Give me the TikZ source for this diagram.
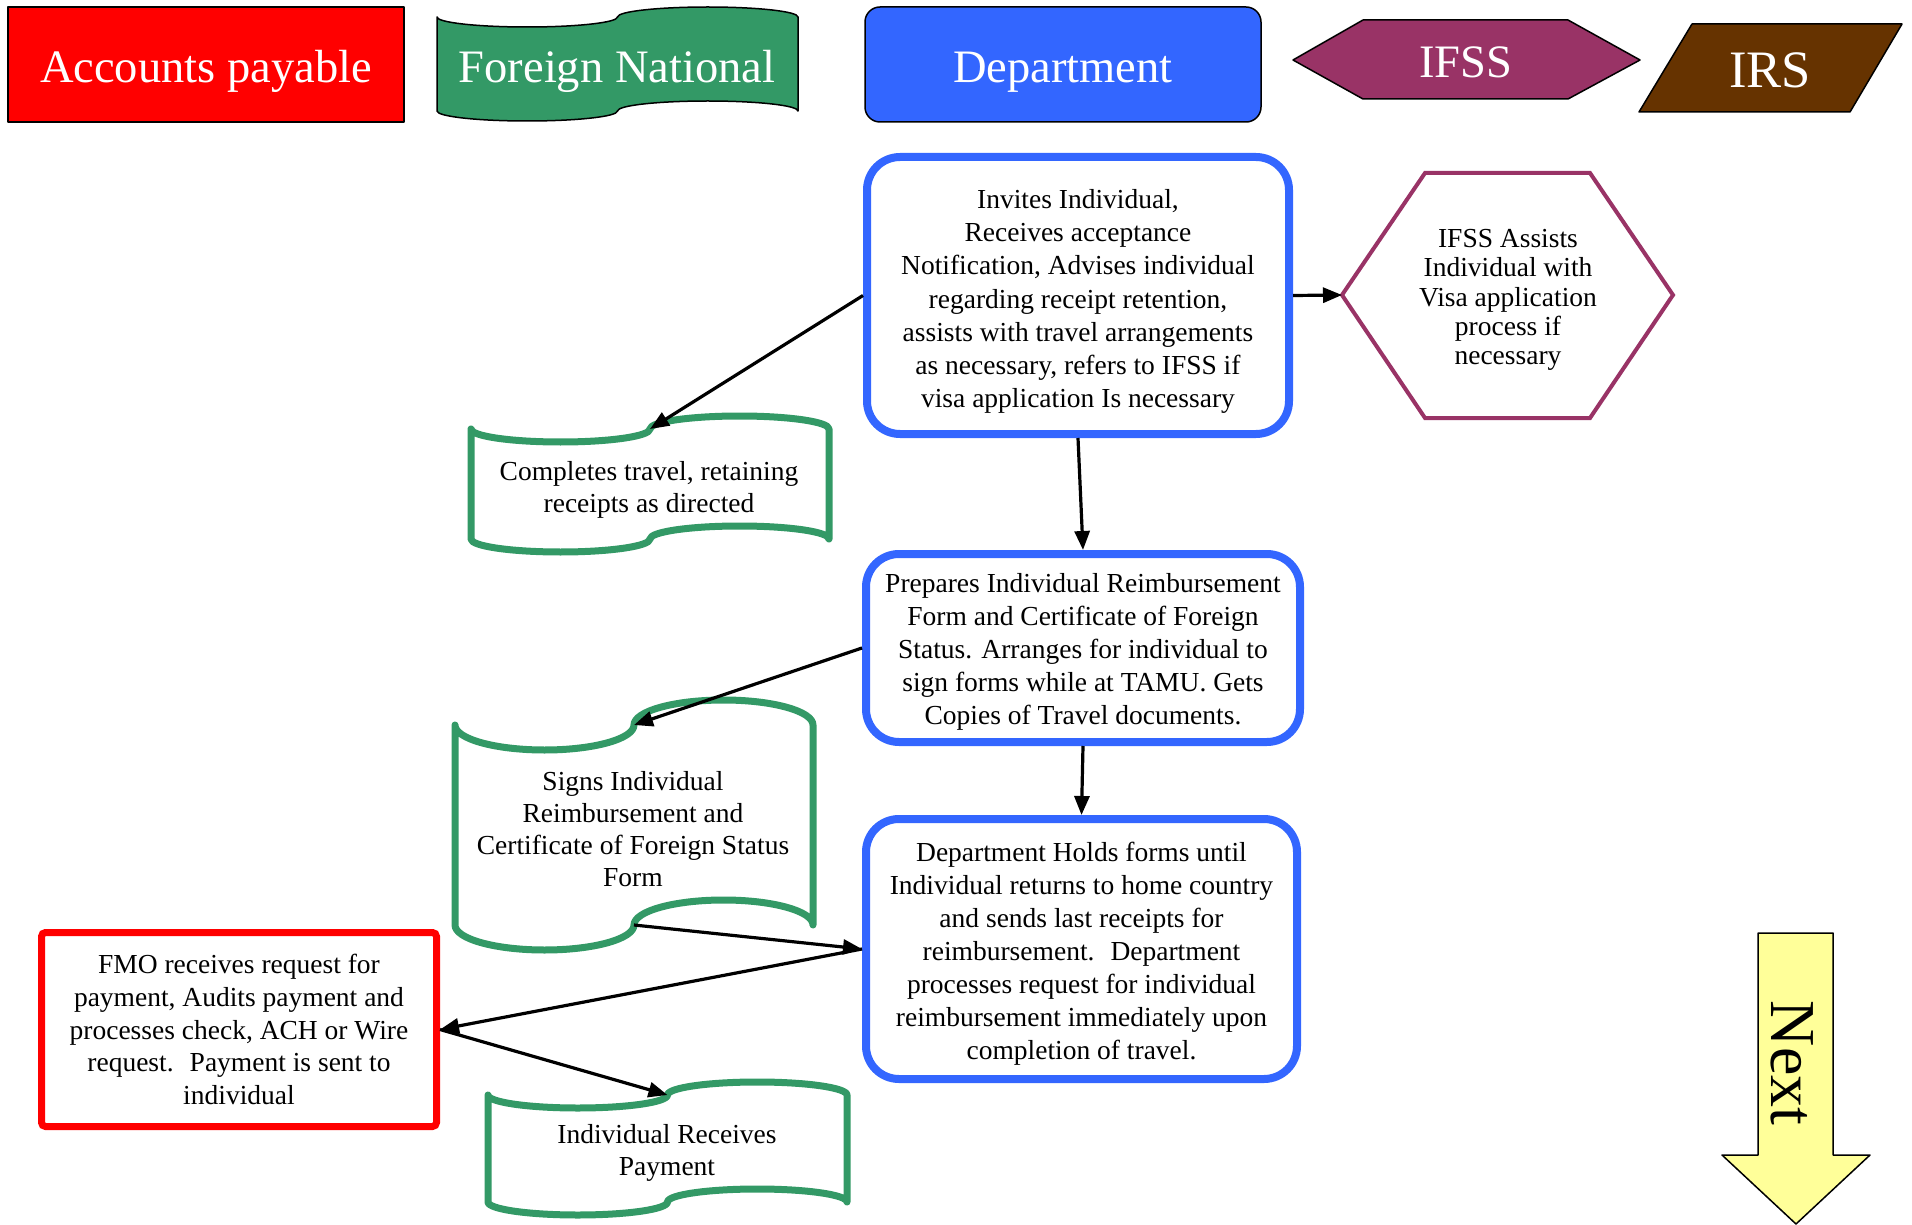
\documentclass[tikz,border=0pt]{standalone}
\usepackage{fontspec}
\setmainfont{Liberation Serif}
\usetikzlibrary{positioning,arrows.meta}
\definecolor{apred}{HTML}{FF0000}
\definecolor{fngreen}{HTML}{339966}
\definecolor{deptblue}{HTML}{3366FF}
\definecolor{ifssplum}{HTML}{993366}
\definecolor{irsbrown}{HTML}{663300}
\definecolor{nextyellow}{HTML}{FFFF99}

\begin{document}
\begin{tikzpicture}[x=0.5pt, y=-0.5pt,
  headnode/.style={inner sep=0pt, text=white, text depth=0pt, font=\fontsize{23.25}{28}\selectfont},
  headline/.style={draw=black, line width=0.75pt, line join=round},
  bluenode/.style={rectangle, draw=deptblue, line width=4pt, rounded corners=16.5pt, fill=white, inner sep=0pt, align=center, font=\fontsize{13.75}{16.55}\selectfont},
  rednode/.style={rectangle, draw=apred, line width=3.5pt, rounded corners=2pt, fill=white, inner sep=0pt, align=center, font=\fontsize{13.75}{16.4}\selectfont},
  textnode/.style={inner sep=0pt, align=center, font=\fontsize{13.75}{16}\selectfont},
  greenline/.style={draw=fngreen, line width=3.5pt, line join=round, fill=white},
  plumline/.style={draw=ifssplum, line width=2pt},
  arrowline/.style={-{Triangle[length=9.5pt,width=7.5pt]}, line width=1.6pt}]

        \useasboundingbox (0,0) rectangle (1912,1225);

        \node[headnode, rectangle, headline, fill=apred, minimum width=198pt, minimum height=57.5pt, text height=18.5pt] (1) at (206,64.5) {Accounts payable};
        \draw[headline, fill=fngreen, x radius=45.125pt, y radius=5pt] (437,17) arc[start angle=180, end angle=360] arc[start angle=180, end angle=0] -- (798,111) arc[start angle=0, end angle=180] arc[start angle=0, end angle=-180] -- cycle;
        \node[headnode] (2) at (617,66) {Foreign National};
        \node[headnode, rectangle, headline, rounded corners=7.5pt, fill=deptblue, minimum width=198pt, minimum height=57.5pt, text height=18.5pt] (3) at (1063,64.5) {Department};
        \draw[headline, fill=ifssplum] (1293,60) -- (1363,20) -- (1568,20) -- (1640,60) -- (1568,99) -- (1363,99) -- cycle;
        \node[headnode] (4) at (1466,62) {IFSS};
        \draw[headline, fill=irsbrown] (1639,112) -- (1692,24) -- (1902,24) -- (1850,112) -- cycle;
        \node[headnode, font=\fontsize{26.3}{30}\selectfont] (5) at (1770,70) {IRS};

        \node[bluenode, minimum width=211pt, minimum height=138.5pt] (6) at (1078,295.5) {\rule{0pt}{15.5pt}Invites Individual,\\Receives acceptance\\Notification, Advises individual\\regarding receipt retention,\\assists with travel arrangements\\as necessary, refers to IFSS if\\visa application Is necessary};

        \draw[plumline] (1342,295) -- (1425,173) -- (1590,173) -- (1673,295) -- (1590,418) -- (1425,418) -- cycle;
        \coordinate (7w) at (1342,295);
        \node[textnode, font=\fontsize{13.75}{14.7}\selectfont] (7) at (1508,300) {IFSS Assists\\Individual with\\Visa application\\process if\\necessary};

        \draw[greenline, x radius=44.75pt, y radius=6.5pt] (471,429) arc[start angle=180, end angle=360] arc[start angle=180, end angle=0] -- (829,539) arc[start angle=0, end angle=180] arc[start angle=0, end angle=-180] -- cycle;
        \coordinate (8t) at (650,429);
        \node[textnode] (8) at (649,490) {Completes travel, retaining\\receipts as directed};

        \node[bluenode, minimum width=217pt, minimum height=94pt] (9) at (1083,648) {\rule{0pt}{13.7pt}Prepares Individual Reimbursement\\Form and Certificate of Foreign\\Status. Arranges for individual to\\sign forms while at TAMU. Gets\\Copies of Travel documents.};

        \draw[greenline, x radius=44.75pt, y radius=12.5pt] (455,725) arc[start angle=180, end angle=360] arc[start angle=180, end angle=0] -- (813,925) arc[start angle=0, end angle=180] arc[start angle=0, end angle=-180] -- cycle;
        \coordinate (10t) at (634,725);
        \coordinate (10b) at (634,925);
        \node[textnode] (10) at (633,829) {Signs Individual\\Reimbursement and\\Certificate of Foreign Status\\Form};

        \node[bluenode, minimum width=215.5pt, minimum height=130pt] (11) at (1081.5,949) {\rule{0pt}{14.4pt}Department Holds forms until\\Individual returns to home country\\and sends last receipts for\\reimbursement.~ Department\\processes request for individual\\reimbursement immediately upon\\completion of travel.};

        \node[rednode, minimum width=197.5pt, minimum height=97pt] (12) at (239,1029.5) {FMO receives request for\\payment, Audits payment and\\processes check, ACH or Wire\\request.~ Payment is sent to\\individual};

        \draw[greenline, x radius=44.875pt, y radius=6.5pt] (488,1095) arc[start angle=180, end angle=360] arc[start angle=180, end angle=0] -- (847,1202) arc[start angle=0, end angle=180] arc[start angle=0, end angle=-180] -- cycle;
        \coordinate (13t) at (667.5,1095);
        \node[textnode] (13) at (667,1153) {Individual Receives\\Payment};

        \draw[headline, fill=nextyellow] (1758,933) -- (1833,933) -- (1833,1155) -- (1870,1155) -- (1796,1224) -- (1722,1155) -- (1758,1155) -- cycle;
        \node[rotate=-90, inner sep=0pt, font=\fontsize{32}{36}\selectfont] (14) at (1792,1063) {Next};

        \draw[arrowline] (6.west) -- (8t);
        \draw[arrowline] (6.east) -- (7w);
        \draw[arrowline] (6.south) -- (9.north);
        \draw[arrowline] (9.west) -- (10t);
        \draw[arrowline] (9.south) -- (11.north);
        \draw[arrowline] (10b) -- (11.west);
        \draw[arrowline] (11.west) -- (12.east);
        \draw[arrowline] (12.east) -- (13t);

        \end{tikzpicture}
\end{document}
